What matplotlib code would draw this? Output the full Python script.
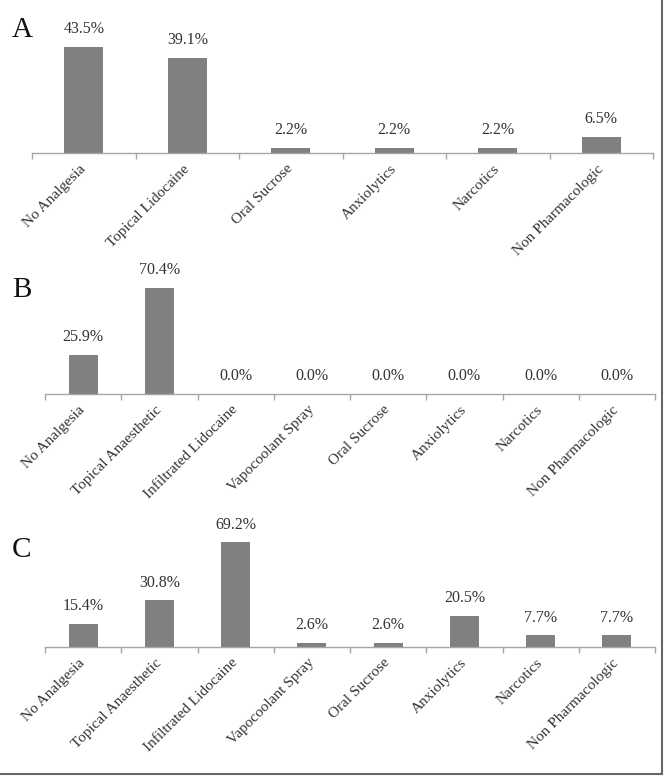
import matplotlib
matplotlib.use("Agg")
import matplotlib.pyplot as plt
from matplotlib.lines import Line2D
import numpy as np

plt.rcParams['font.family'] = ['Liberation Serif', 'DejaVu Serif']

# panel A
cats_a = ["No Analgesia", "Topical Lidocaine", "Oral Sucrose", "Anxiolytics",
          "Narcotics", "Non Pharmacologic"]
vals_a = [43.5, 39.1, 2.2, 2.2, 2.2, 6.5]

# panel B
cats_b = ["No Analgesia", "Topical Anaesthetic", "Infiltrated Lidocaine",
          "Vapocoolant Spray", "Oral Sucrose", "Anxiolytics", "Narcotics",
          "Non Pharmacologic"]
vals_b = [25.9, 70.4, 0.0, 0.0, 0.0, 0.0, 0.0, 0.0]

# panel C
cats_c = cats_b
vals_c = [15.4, 30.8, 69.2, 2.6, 2.6, 20.5, 7.7, 7.7]

BAR = "#808083"
AXIS = "#a6a6a6"
TEXT = "#333333"

W, H = 667, 778
fig = plt.figure(figsize=(W / 100, H / 100), dpi=100)


def panel(rect_px, cats, vals, ymax, letter, letter_y):
    x0, x1, top, bottom = rect_px
    ax = fig.add_axes([x0 / W, 1 - bottom / H, (x1 - x0) / W, (bottom - top) / H])
    n = len(cats)
    x = np.arange(n)
    bars = ax.bar(x, vals, width=0.38, color=BAR, edgecolor="none")
    ax.bar_label(bars, labels=[f"{v:.1f}%" for v in vals], padding=7,
                 fontsize=11.5, color=TEXT)
    ax.set_xlim(-0.5, n - 0.5)
    ax.set_ylim(0, ymax)
    for s in ("top", "right", "left"):
        ax.spines[s].set_visible(False)
    ax.spines["bottom"].set_color(AXIS)
    ax.spines["bottom"].set_linewidth(1.0)
    ax.set_yticks([])
    ax.set_xticks(x)
    ax.set_xticklabels(cats, rotation=45, ha="right", va="center",
                       rotation_mode="anchor", fontsize=11, color=TEXT)
    ax.tick_params(axis="x", which="major", length=0, pad=10)
    # small ticks sit between the categories
    ax.set_xticks(np.arange(n + 1) - 0.5, minor=True)
    ax.tick_params(axis="x", which="minor", length=4, color=AXIS, width=1.0)
    fig.text(12 / W, 1 - letter_y / H, letter, fontsize=21, color="#111111",
             va="baseline", ha="left")
    return ax


panel((32, 653, 31, 153), cats_a, vals_a, 50, "A", 37)
panel((45, 655, 273, 394), cats_b, vals_b, 80, "B", 297)
panel((45, 655, 526, 647), cats_c, vals_c, 80, "C", 557)

# frame edges on right and bottom
fig.add_artist(Line2D([662 / W, 662 / W], [1 - 774 / H, 1], transform=fig.transFigure,
                      color="#666666", linewidth=1.5))
fig.add_artist(Line2D([0, 662 / W], [1 - 774 / H, 1 - 774 / H], transform=fig.transFigure,
                      color="#666666", linewidth=1.5))

fig.savefig("out.png", dpi=100, facecolor="white")
